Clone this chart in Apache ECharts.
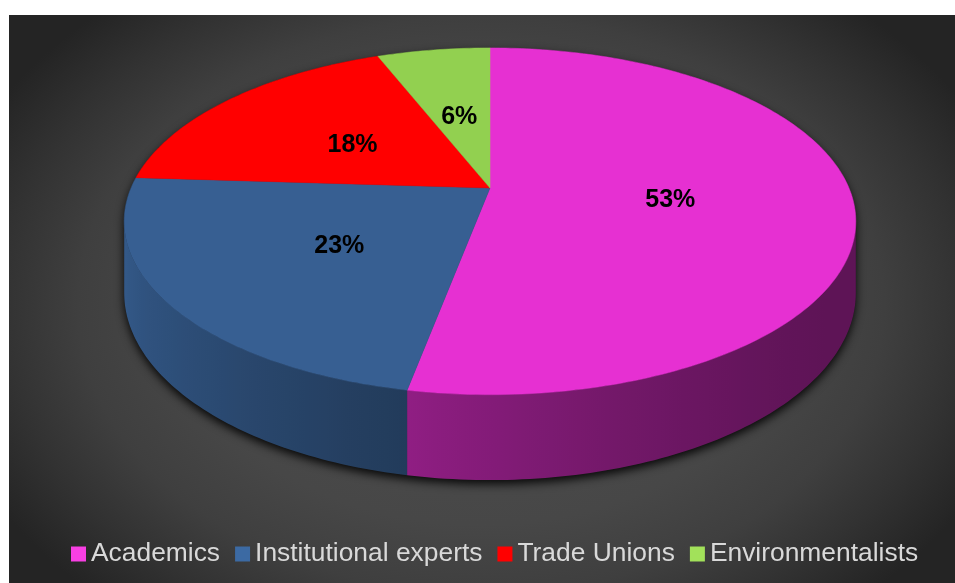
<!DOCTYPE html>
<html>
<head>
<meta charset="utf-8">
<script src="https://cdn.jsdelivr.net/npm/echarts@6/dist/echarts.min.js"></script>
<style>
  html, body { margin: 0; padding: 0; background: #ffffff; }
  #chart {
    position: absolute; left: 9px; top: 15px; width: 946px; height: 568px;
    background: radial-gradient(ellipse 560px 400px at 472px 290px,
      #4e4e4e 0%, #474747 55%, #3f3f3f 72%, #323232 86%, #242424 100%);
  }
</style>
</head>
<body>
<div id="chart"></div>
<script>
// Stakeholder groups and their shares (%)
const categories = ['Academics', 'Institutional experts', 'Trade Unions', 'Environmentalists'];
const shares = [53, 23, 18, 6];
const topColors = ['#e630d2', '#375f92', '#ff0000', '#92d050'];
const legendColors = ['#f83fe3', '#3c6aa3', '#ff0000', '#a2e15a'];

// Tilted-disc projection parameters (pixels inside the chart box)
const CX = 481, CY = 173;      // projected centre of the disc
const RX = 359, RY = 167;      // horizontal / depth radii
const PERSP = 0.192;           // perspective shrink of the far half
const DEPTH = 69;              // thickness of the disc
const LABEL_R = 0.5;           // label distance as a fraction of the radius
const LABEL_DY = 4;            // labels sit slightly below the face centroid

const total = shares.reduce((a, b) => a + b, 0);
const starts = [];
shares.reduce((acc, v, i) => { starts[i] = acc; return acc + v; }, 0);

function proj(deg, down, frac) {
  const f = frac == null ? 1 : frac;
  const t = deg * Math.PI / 180;
  const u = Math.sin(t) * f, v = Math.cos(t) * f;
  const s = 1 / (1 + PERSP * v);
  return [CX + RX * u * s, CY - RY * v * s + down * DEPTH * s];
}

// visible part of the rim (where the outline turns vertical)
const SIDE_R = Math.acos(-PERSP) * 180 / Math.PI;
const SIDE_L = 360 - SIDE_R;

// brightness of the outer wall depending on the direction it faces
function wallLight(deg) {
  const t = deg * Math.PI / 180;
  return 0.706 - 0.2666 * Math.sin(t) + 0.134 * Math.cos(t);
}
function shade(hex, k) {
  const n = parseInt(hex.slice(1), 16);
  const c = [(n >> 16) & 255, (n >> 8) & 255, n & 255].map(x => Math.max(0, Math.min(255, Math.round(x * k))));
  return 'rgb(' + c.join(',') + ')';
}
function arcPoints(a0, a1, down) {
  const pts = [];
  const n = Math.max(2, Math.ceil(Math.abs(a1 - a0)));
  for (let j = 0; j <= n; j++) pts.push(proj(a0 + (a1 - a0) * j / n, down));
  return pts;
}

function renderSlice(i, api) {
  const value = api.value(0);
  const a0 = starts[i] / total * 360;
  const a1 = a0 + value / total * 360;
  const children = [];

  // outer wall with a horizontal light gradient along it
  const w0 = Math.max(a0, SIDE_R), w1 = Math.min(a1, SIDE_L);
  if (w1 > w0) {
    const upper = arcPoints(w0, w1, 0);
    const lower = arcPoints(w0, w1, 1).reverse();
    const xa = proj(w0, 1)[0], xb = proj(w1, 1)[0];
    const xmin = Math.min(xa, xb, proj(w0, 0)[0], proj(w1, 0)[0]);
    const xmax = Math.max(xa, xb, proj(w0, 0)[0], proj(w1, 0)[0]);
    const stops = [];
    const n = 24;
    for (let j = 0; j <= n; j++) {
      const t = w0 + (w1 - w0) * j / n;
      const x = proj(t, 0.5)[0];
      stops.push({ offset: Math.max(0, Math.min(1, (x - xmin) / (xmax - xmin))), color: shade(topColors[i], wallLight(t)) });
    }
    stops.sort((p, q) => p.offset - q.offset);
    children.push({
      type: 'polygon',
      shape: { points: upper.concat(lower) },
      style: {
        fill: { type: 'linear', x: xmin, y: 0, x2: xmax, y2: 0, global: true, colorStops: stops }
      }
    });
  }

  // top face
  const topPts = [[CX, CY]].concat(arcPoints(a0, a1, 0));
  children.push({
    type: 'polygon',
    shape: { points: topPts },
    style: { fill: topColors[i], stroke: topColors[i], lineWidth: 0.5 }
  });

  // percentage label
  const mid = (a0 + a1) / 2;
  const lp = proj(mid, 0, LABEL_R);
  children.push({
    type: 'text',
    x: lp[0], y: lp[1] + LABEL_DY,
    style: {
      text: Math.round(value / total * 100) + '%',
      fontFamily: 'Liberation Sans, Arial, sans-serif',
      fontSize: 25, fontWeight: 'bold', fill: '#000000',
      align: 'center', verticalAlign: 'middle'
    }
  });
  return { type: 'group', children };
}

// soft shadow below the disc outline
function renderShadow() {
  const back = arcPoints(SIDE_L, 360 + SIDE_R, 0);
  const front = arcPoints(SIDE_R, SIDE_L, 1);
  return {
    type: 'polygon',
    shape: { points: back.concat(front) },
    style: {
      fill: '#1a1a1a',
      shadowBlur: 10, shadowColor: 'rgba(0,0,0,0.9)', shadowOffsetX: 0, shadowOffsetY: 4
    }
  };
}

const chart = echarts.init(document.getElementById('chart'), null, { renderer: 'canvas' });
const series = [{
  type: 'custom', name: 'outline', coordinateSystem: 'none', silent: true, z: 1,
  data: [total], renderItem: renderShadow
}].concat(categories.map((name, i) => ({
  type: 'custom', name, coordinateSystem: 'none', silent: true, z: 2,
  itemStyle: { color: legendColors[i] },
  data: [shares[i]],
  renderItem: (params, api) => renderSlice(i, api)
})));

chart.setOption({
  animation: false,
  backgroundColor: 'transparent',
  legend: {
    data: categories.map((n, i) => ({ name: n, itemStyle: { color: legendColors[i] } })),
    left: 57, top: 519,
    icon: 'rect', itemWidth: 15, itemHeight: 15, itemGap: 15,
    selectedMode: false,
    textStyle: { color: '#d9d9d9', fontSize: 26.4, lineHeight: 30, fontFamily: 'Liberation Sans, Arial, sans-serif' }
  },
  series
});
</script>
</body>
</html>
